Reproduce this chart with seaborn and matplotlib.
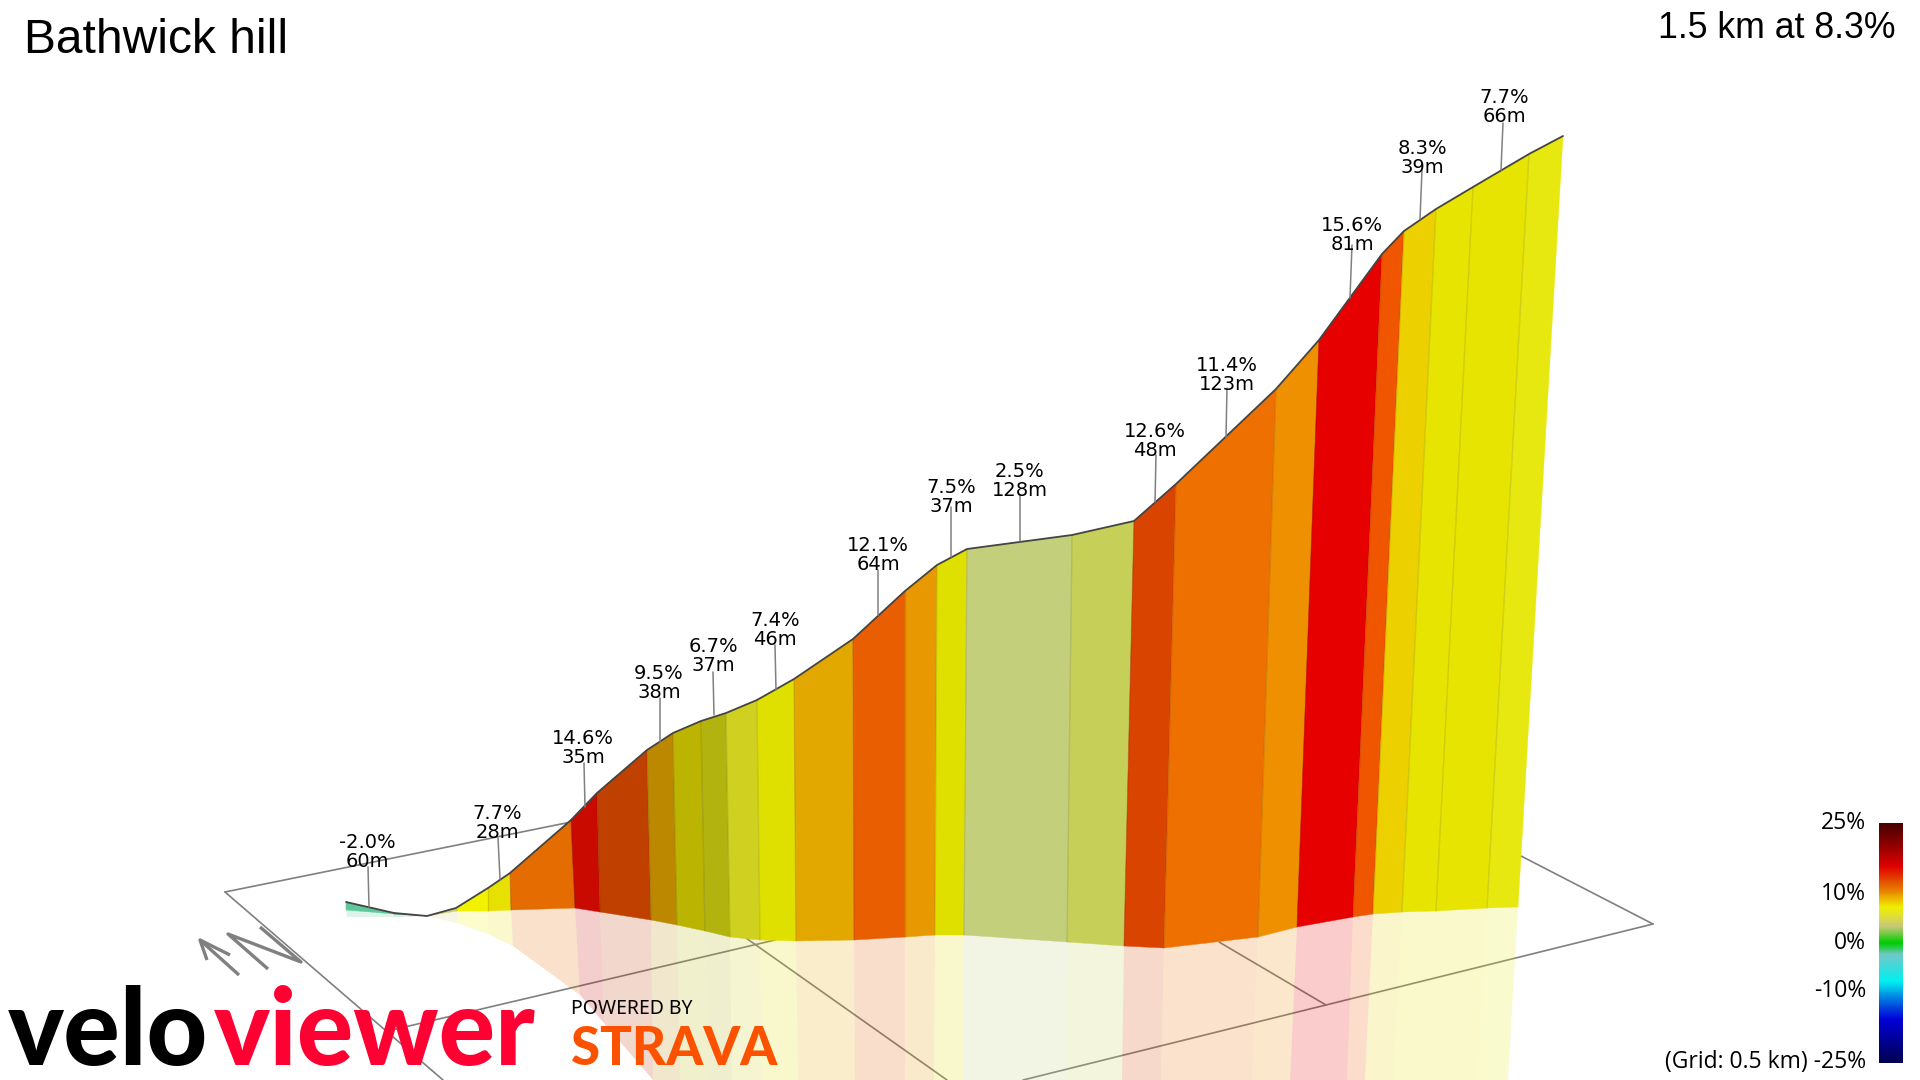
import matplotlib
matplotlib.use("Agg")
import matplotlib.pyplot as plt
import numpy as np
import seaborn as sns
from matplotlib.colors import LinearSegmentedColormap

# profile, in image pixels
top_x = [346, 394, 427, 456, 488, 510, 571, 597, 647, 673, 701, 726, 757, 794, 853, 905, 937, 967,
         1072, 1134, 1176, 1276, 1319, 1382, 1404, 1436, 1473, 1529, 1563]
top_y = [902, 913, 916, 908, 888, 873, 820, 793, 750, 733, 721, 713, 700, 679, 639, 591, 565, 549,
         535, 521, 484, 389, 340, 254, 231, 209, 187, 154, 136]
base_x = [346, 394, 427, 457, 488, 511, 575, 600, 651, 677, 705, 730, 760, 796, 854, 905, 935, 964,
          1067, 1124, 1164, 1258, 1297, 1353, 1373, 1402, 1436, 1487, 1518]
base_y = [910, 914, 916, 911, 911, 910, 908, 912, 920, 925, 931, 937, 940, 941, 940, 937, 935, 935,
          942, 946, 948, 937, 927, 917, 914, 912, 911, 908, 907]
shadow_x = [347, 394, 427, 457, 488, 513, 580, 604, 653, 680, 708, 732, 762, 798, 855, 905, 934, 963,
            1065, 1122, 1161, 1252, 1290, 1347, 1365, 1393, 1427, 1477, 1508]
shadow_y = [917, 917, 916, 923, 934, 946, 995, 1023, 1080, 1080, 1080, 1080, 1080, 1080, 1080, 1080, 1080, 1080,
            1080, 1080, 1080, 1080, 1080, 1080, 1080, 1080, 1080, 1080, 1080]
band_colors = ["#5cc89c", "#2f9e5f", "#cfd278", "#f2f200", "#e8e000", "#e46c00", "#c80a00", "#c04000",
               "#bb8800", "#bbb400", "#b3b310", "#cfd020", "#e0e000", "#e3a800", "#e85e00", "#e89800",
               "#e0e000", "#c4cf7c", "#c6cf58", "#d94400", "#ee7000", "#ef9000", "#e60000", "#f05500",
               "#ecd000", "#e6e400", "#e6e400", "#e6e80f"]

# climb segments: grade, length, label centre, callout end points
seg_grade = ["-2.0%", "7.7%", "14.6%", "9.5%", "6.7%", "7.4%", "12.1%", "7.5%", "2.5%", "12.6%", "11.4%",
             "15.6%", "8.3%", "7.7%"]
seg_length = ["60m", "28m", "35m", "38m", "37m", "46m", "64m", "37m", "128m", "48m", "123m", "81m", "39m", "66m"]
label_x = [367, 497, 583, 659, 713, 775, 878, 951, 1020, 1155, 1227, 1352, 1422, 1504]
label_y = [852, 823, 748, 683, 656, 630, 555, 497, 481, 441, 375, 235, 158, 107]
call_x0 = [368, 498, 584, 660, 713, 775, 878, 951, 1020, 1156, 1227, 1352, 1422, 1503]
call_y0 = [867, 838, 763, 698, 672, 645, 570, 507, 495, 455, 388, 245, 170, 123]
call_x1 = [369, 500, 585, 660, 714, 776, 878, 951, 1020, 1155, 1226, 1350, 1420, 1501]
call_y1 = [907, 879, 807, 742, 715, 690, 615, 557, 541, 502, 437, 298, 219, 170]

# ground grid and north arrow, as (x list, y list)
grid_lines = [([225, 571], [892, 822]), ([392, 775], [1030, 940]), ([1023, 1653], [1080, 924]),
              ([225, 443], [892, 1080]), ([746, 947], [938, 1080]), ([1219, 1326], [942, 1005]),
              ([1521, 1653], [856, 924])]
north_lines = [([200, 239], [940, 975]), ([207, 200, 230], [960, 940, 955]),
               ([268, 228, 301, 260], [969, 934, 962, 927])]

# colour scale
scale_values = [-25, -16, -12, -8, -2.5, 0, 3.5, 7.5, 11, 16, 21, 25]
scale_colors = ["#000050", "#0000d8", "#0070e0", "#00f0f0", "#70c8c8", "#00cc00", "#c8c878", "#f0f000",
                "#e88000", "#e00000", "#880000", "#4a0000"]
scale_ticks = ["25%", "10%", "0%", "-10%", "(Grid: 0.5 km) -25%"]
scale_tick_y = [823, 894, 943, 991, 1062]

sns.set_theme(style="white")
fig = plt.figure(figsize=(19.2, 10.8), dpi=100)
ax = fig.add_axes([0, 0, 1, 1])
ax.set_xlim(0, 1920)
ax.set_ylim(1080, 0)
ax.axis("off")

for xs, ys in grid_lines:
    sns.lineplot(x=xs, y=ys, sort=False, estimator=None, color="#808080", lw=1.2, ax=ax, zorder=1)

for i, col in enumerate(band_colors):
    # faded reflection on the ground
    xs = [base_x[i], base_x[i + 1], shadow_x[i + 1], shadow_x[i]]
    ys = [base_y[i], base_y[i + 1], shadow_y[i + 1], shadow_y[i]]
    ax.fill(xs, ys, color=col, alpha=0.2, lw=0, zorder=2)
    # wall
    xs = [top_x[i], top_x[i + 1], base_x[i + 1], base_x[i]]
    ys = [top_y[i], top_y[i + 1], base_y[i + 1], base_y[i]]
    ax.fill(xs, ys, color=col, lw=0.3, zorder=3)

for i in range(1, len(top_x) - 1):
    ax.plot([top_x[i], base_x[i]], [top_y[i], base_y[i]], color="black", alpha=0.1, lw=1, zorder=4)

sns.lineplot(x=top_x, y=top_y, sort=False, estimator=None, color="#444444", lw=1.3, ax=ax, zorder=5)

for i in range(len(seg_grade)):
    ax.plot([call_x0[i], call_x1[i]], [call_y0[i], call_y1[i]], color="#808080", lw=1.1, zorder=5)
    ax.text(label_x[i], label_y[i], seg_grade[i] + "\n" + seg_length[i], ha="center", va="center",
            family="DejaVu Sans", fontsize=14, linespacing=1.0, color="black", zorder=7)

for xs, ys in north_lines:
    ax.plot(xs, ys, color="#808080", lw=2.4, zorder=2, solid_capstyle="butt")

ax.text(24, 53, "Bathwick hill", family="Liberation Sans", fontsize=34.5, color="black", va="baseline")
ax.text(1896, 38, "1.5 km at 8.3%", family="Liberation Sans", fontsize=25.7, color="black", ha="right",
        va="baseline")

# logos
ax.text(8, 1065, "velo", family="Lato", fontweight="black", fontsize=76, color="black", va="baseline", zorder=6)
ax.text(214, 1065, "viewer", family="Lato", fontweight="black", fontsize=76, color="#ff0033", va="baseline",
        zorder=6)
ax.text(571, 1014, "POWERED BY", family="Noto Sans", fontsize=14, color="black", va="baseline", zorder=6)
ax.text(571, 1065, "STRAVA", family="Lato", fontweight="black", fontsize=38, color="#fc5200", va="baseline",
        zorder=6)

# colour scale bar
cax = fig.add_axes([1879 / 1920, 1 - 1063 / 1080, 24 / 1920, 240 / 1080])
ramp = LinearSegmentedColormap.from_list(
    "grade", [((v + 25) / 50, c) for v, c in zip(scale_values, scale_colors)])
sns.heatmap(np.linspace(25, -25, 240).reshape(-1, 1), vmin=-25, vmax=25, cmap=ramp, cbar=False,
            xticklabels=False, yticklabels=False, ax=cax)
for label, y in zip(scale_ticks, scale_tick_y):
    ax.text(1866, y, label, family="Open Sans", fontsize=16.5, color="black", ha="right", va="center")

fig.savefig("out.png", dpi=100)
